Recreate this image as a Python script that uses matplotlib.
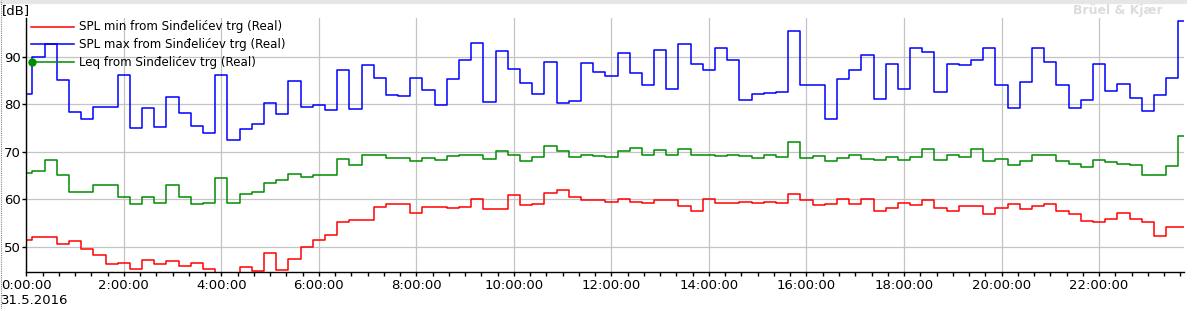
import numpy as np
import matplotlib.pyplot as plt
from matplotlib.ticker import MultipleLocator, FuncFormatter

# ── Datos (niveles cada 15 min, 31.5.2016) ───────────────────────
horas = np.arange(96) * 0.25

spl_max = [82.2, 89.9, 92.6, 85.0, 78.3, 76.8, 79.5, 79.5, 86.2, 75.0, 79.3, 75.3,
           81.6, 78.1, 75.5, 73.9, 86.2, 72.4, 74.7, 75.8, 80.2, 77.9, 84.9, 79.5,
           79.8, 78.8, 87.1, 79.0, 88.2, 85.6, 82.0, 81.8, 85.6, 82.9, 79.8, 85.2,
           89.4, 92.8, 80.4, 91.3, 87.5, 84.4, 82.1, 88.8, 80.2, 80.6, 88.6, 86.8,
           85.9, 90.7, 86.5, 84.0, 91.5, 83.3, 92.6, 88.4, 87.1, 91.8, 89.2, 80.8,
           82.1, 82.3, 82.5, 95.5, 84.0, 84.0, 76.8, 85.4, 87.1, 90.3, 81.0, 88.4,
           83.3, 91.8, 90.9, 82.5, 88.4, 88.2, 89.4, 91.8, 84.0, 79.3, 84.6, 91.8,
           88.8, 84.0, 79.3, 80.8, 88.4, 82.7, 84.2, 81.2, 78.5, 81.9, 85.6, 97.5]

leq = [65.6, 65.9, 68.2, 65.0, 61.6, 61.6, 62.9, 62.9, 60.5, 59.0, 60.4, 59.3,
       62.9, 60.5, 59.0, 59.3, 64.4, 59.1, 61.1, 61.6, 63.5, 64.1, 65.4, 64.6,
       65.0, 65.0, 68.4, 67.3, 69.2, 69.2, 68.6, 68.6, 68.0, 68.6, 68.2, 69.1,
       69.4, 69.2, 68.4, 70.1, 69.4, 68.0, 68.9, 71.1, 70.1, 68.9, 69.4, 69.1,
       68.8, 70.1, 70.8, 69.2, 70.3, 69.2, 70.5, 69.4, 69.2, 69.0, 69.4, 69.1,
       68.6, 69.4, 68.8, 72.0, 68.6, 69.0, 68.0, 68.6, 69.2, 68.4, 68.2, 68.8,
       68.2, 68.9, 70.5, 68.2, 69.2, 68.9, 70.5, 68.0, 68.4, 67.3, 68.0, 69.2,
       69.4, 68.0, 67.5, 66.7, 68.2, 67.8, 67.5, 67.1, 65.0, 65.0, 67.0, 73.4]

spl_min = [51.4, 52.1, 52.1, 50.5, 51.1, 49.6, 48.2, 46.3, 46.5, 45.4, 47.1, 46.3,
           46.9, 45.9, 46.5, 45.4, 43.8, 43.5, 45.7, 44.8, 48.6, 45.1, 47.4, 50.0,
           51.4, 52.5, 55.3, 55.6, 55.6, 58.4, 59.0, 59.0, 57.0, 58.4, 58.4, 58.1,
           58.4, 60.1, 57.9, 57.9, 60.9, 58.7, 59.0, 61.4, 61.9, 60.4, 59.8, 59.8,
           59.5, 60.0, 59.5, 59.3, 59.8, 59.8, 58.5, 57.6, 60.0, 59.1, 59.3, 59.5,
           59.1, 59.5, 59.3, 61.0, 59.8, 58.7, 58.9, 60.0, 58.9, 60.0, 57.6, 58.2,
           59.3, 58.7, 59.8, 58.2, 57.6, 58.5, 58.5, 56.8, 58.2, 58.9, 57.9, 58.5,
           58.9, 57.6, 56.8, 55.5, 55.1, 55.8, 57.2, 55.8, 55.1, 52.2, 54.1, 54.1]

series = [
    ("SPL min from Sinđelićev trg (Real)", spl_min, "#ff0000"),
    ("SPL max from Sinđelićev trg (Real)", spl_max, "#0000ff"),
    ("Leq from Sinđelićev trg (Real)", leq, "#008c00"),
]

# ── Figura ────────────────────────────────────────────────────────
W, H = 1187, 309
fig = plt.figure(figsize=(W / 100, H / 100), dpi=100)
ax = fig.add_axes([26.3 / W, 1 - 271.7 / H, (1184.4 - 26.3) / W, (271.7 - 18.3) / H])

for nombre, vals, color in series:
    ax.step(horas, vals, where="mid", color=color, lw=1.1, label=nombre)

ax.set_xlim(0, 23.75)
ax.set_ylim(44.74, 98.08)

ax.xaxis.set_major_locator(MultipleLocator(2))
ax.xaxis.set_minor_locator(MultipleLocator(1 / 3))
ax.xaxis.set_major_formatter(FuncFormatter(lambda v, p: f"{int(round(v))}:00:00"))
ax.yaxis.set_major_locator(MultipleLocator(10))
ax.grid(True, which="major", color="#c4c4c4", lw=0.9)
ax.set_axisbelow(True)

for lado in ("top", "right"):
    ax.spines[lado].set_visible(False)
ax.spines["left"].set_linewidth(1.0)
ax.spines["bottom"].set_linewidth(1.0)
ax.tick_params(axis="x", which="both", direction="out", length=3, width=1,
               labelsize=9.5, pad=2.5, colors="black")
ax.tick_params(axis="y", which="major", direction="out", length=3, width=1,
               labelsize=9.5, pad=1)

# leyenda dibujada a mano (estilo del programa original)
tr = ax.transAxes
def ax_px(x, y):
    # píxeles de la figura -> coordenadas de ejes
    bb = ax.get_position()
    return ((x / W) - bb.x0) / bb.width, ((1 - y / H) - bb.y0) / bb.height

for i, (nombre, vals, color) in enumerate(series):
    y = 26.7 + i * 17.7
    x0, yy = ax_px(30.7, y)
    x1, _ = ax_px(74, y)
    xt, _ = ax_px(79.3, y)
    ax.plot([x0, x1], [yy, yy], color=color, lw=1.1, transform=tr, clip_on=False)
    ax.text(xt, yy, nombre, transform=tr, fontsize=8.6, va="center", ha="left")
xm, ym = ax_px(32.3, 62)
ax.plot([xm], [ym], "o", color="#008c00", ms=5, transform=tr, clip_on=False)

fig.text(2 / W, 1 - 10.5 / H, "[dB]", fontsize=9.5, va="center", ha="left")
fig.text(1 / W, 1 - 301 / H, "31.5.2016", fontsize=9.5, va="center", ha="left")
fig.text(1118 / W, 1 - 10.5 / H, "Brüel & Kjær", fontsize=9, fontweight="bold",
         color="#dcdcdc", va="center", ha="center")

# franja gris superior y borde punteado izquierdo
fig.add_artist(plt.Line2D([0, 1], [1 - 2 / H, 1 - 2 / H], color="#e6e6e6", lw=3))
fig.add_artist(plt.Line2D([0.6 / W, 0.6 / W], [0, 1], color="#808080", lw=0.8, ls=(0, (1, 1))))

fig.savefig("out.png", dpi=100)
